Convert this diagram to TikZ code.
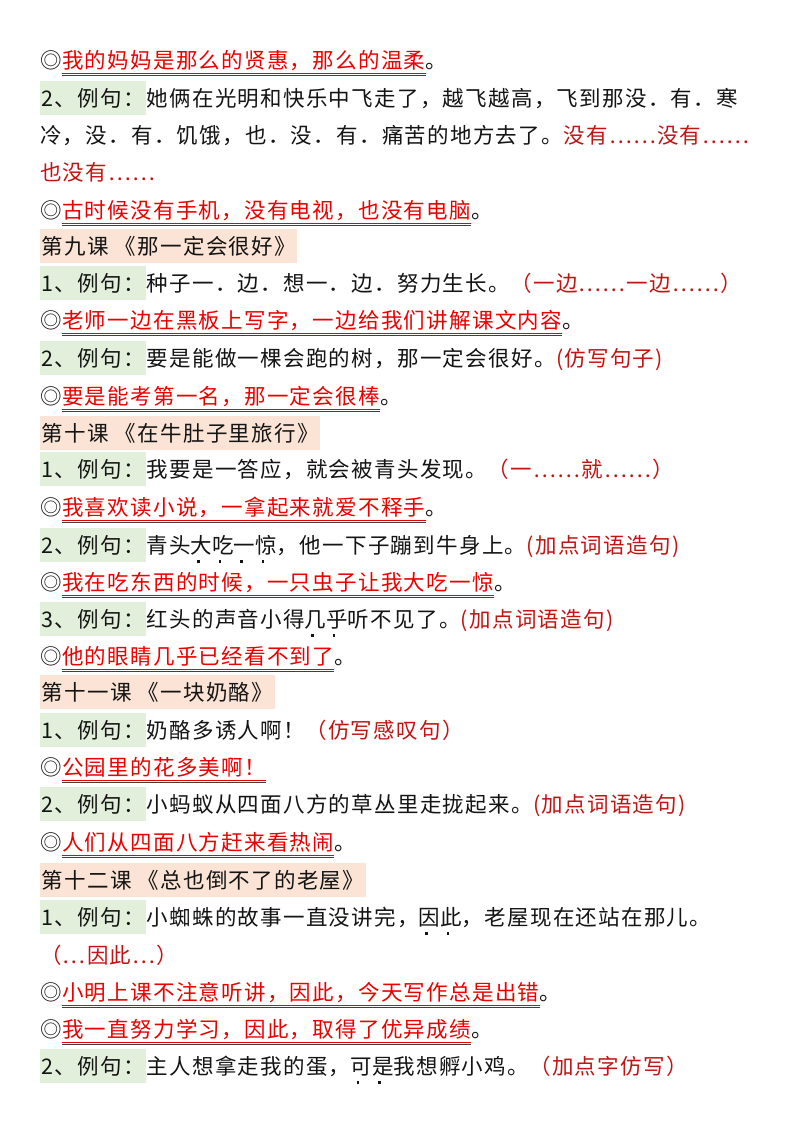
\documentclass[tikz,border=0pt]{standalone}
\usepackage{fontspec}
\setmainfont[LetterSpace=6]{Noto Sans CJK SC}
\definecolor{gbox}{RGB}{226,239,218}
\definecolor{pbox}{RGB}{251,228,213}
\definecolor{sred}{RGB}{235,0,0}
\definecolor{hred}{RGB}{195,20,20}
\definecolor{ink}{RGB}{20,20,20}
\newcommand\zd[1]{\ooalign{#1\cr\hfil\raisebox{-0.45em}{\rule{0.12em}{0.12em}}\kern0.3em\hfil\cr}}
\begin{document}
\begin{tikzpicture}[x=1pt,y=-1pt,
  t/.style={inner sep=0pt,anchor=base west,font=\fontsize{21.5}{24}\selectfont,text=ink},
  rs/.style={t,text=sred},
  hs/.style={t,text=hred},
  lab/.style={t,fill=gbox,inner xsep=1.5pt,text height=25pt,text depth=9pt},
  head/.style={t,fill=pbox,inner xsep=1.5pt,text height=25pt,text depth=9pt},
  ulr/.style={sred,line width=0.8pt},
  ulg/.style={black!75,line width=0.8pt}]
\fill[white] (0,0) rectangle (800,1132);
\useasboundingbox (0,0) rectangle (800,1132);
\newcommand\ex[4]{% y, name, red text, tail
  \node[t] (#2m) at (40,#1) {◎};
  \node[rs] (#2s) at (#2m.base east) {#3};
  \node[t] (#2p) at (#2s.base east) {#4};
  \draw[ulr] ([yshift=-5pt]#2s.base west) -- ([yshift=-5pt]#2s.base east);
  \draw[ulg] ([yshift=-7pt]#2s.base west) -- ([yshift=-7pt]#2s.base east);}
\ex{68}{a}{我的妈妈是那么的贤惠，那么的温柔}{。}
\node[lab] (b1) at (40,106) {2、例句：};
\node[t] (b2) at (b1.base east) {她俩在光明和快乐中飞走了，越飞越高，飞到那没．有．寒};
\node[t] (c1) at (40,143) {冷，没．有．饥饿，也．没．有．痛苦的地方去了。};
\node[hs] (c2) at (c1.base east) {没有……没有……};
\node[hs] (d1) at (40,180) {也没有……};
\ex{218}{e}{古时候没有手机，没有电视，也没有电脑}{。}
\node[head] (h9) at (40,254) {第九课 《那一定会很好》};
\node[lab] (f1) at (40,291) {1、例句：};
\node[t] (f2) at (f1.base east) {种子一．边．想一．边．努力生长。};
\node[hs] (f3) at (f2.base east) {（一边……一边……）};
\ex{328}{g}{老师一边在黑板上写字，一边给我们讲解课文内容}{。}
\node[lab] (i1) at (40,366) {2、例句：};
\node[t] (i2) at (i1.base east) {要是能做一棵会跑的树，那一定会很好。};
\node[hs] (i3) at (i2.base east) {(仿写句子)};
\ex{404}{j}{要是能考第一名，那一定会很棒}{。}
\node[head] (h10) at (40,441) {第十课 《在牛肚子里旅行》};
\node[lab] (k1) at (40,477) {1、例句：};
\node[t] (k2) at (k1.base east) {我要是一答应，就会被青头发现。};
\node[hs] (k3) at (k2.base east) {（一……就……）};
\ex{515}{l}{我喜欢读小说，一拿起来就爱不释手}{。}
\node[lab] (m1) at (40,553) {2、例句：};
\node[t] (m2) at (m1.base east) {青头\zd{大}\zd{吃}\zd{一}\zd{惊}，他一下子蹦到牛身上。};
\node[hs] (m3) at (m2.base east) {(加点词语造句)};
\ex{590}{n}{我在吃东西的时候，一只虫子让我大吃一惊}{。}
\node[lab] (o1) at (40,627) {3、例句：};
\node[t] (o2) at (o1.base east) {红头的声音小得\zd{几}\zd{乎}听不见了。};
\node[hs] (o3) at (o2.base east) {(加点词语造句)};
\ex{664}{q}{他的眼睛几乎已经看不到了}{。}
\node[head] (h11) at (40,700) {第十一课 《一块奶酪》};
\node[lab] (r1) at (40,738) {1、例句：};
\node[t] (r2) at (r1.base east) {奶酪多诱人啊！};
\node[hs] (r3) at (r2.base east) {（仿写感叹句）};
\ex{775}{s}{公园里的花多美啊！}{};
\node[lab] (u1) at (40,812) {2、例句：};
\node[t] (u2) at (u1.base east) {小蚂蚁从四面八方的草丛里走拢起来。};
\node[hs] (u3) at (u2.base east) {(加点词语造句)};
\ex{850}{v}{人们从四面八方赶来看热闹}{。}
\node[head] (h12) at (40,888) {第十二课 《总也倒不了的老屋》};
\node[lab] (w1) at (40,925) {1、例句：};
\node[t] (w2) at (w1.base east) {小蜘蛛的故事一直没讲完，\zd{因}\zd{此}，老屋现在还站在那儿。};
\node[hs] (x1) at (40,963) {（…因此…）};
\ex{1000}{y}{小明上课不注意听讲，因此，今天写作总是出错}{。}
\ex{1037}{z}{我一直努力学习，因此，取得了优异成绩}{。}
\node[lab] (za) at (40,1074) {2、例句：};
\node[t] (zb) at (za.base east) {主人想拿走我的蛋，\zd{可}\zd{是}我想孵小鸡。};
\node[hs] (zc) at (zb.base east) {（加点字仿写）};
\end{tikzpicture}
\end{document}
